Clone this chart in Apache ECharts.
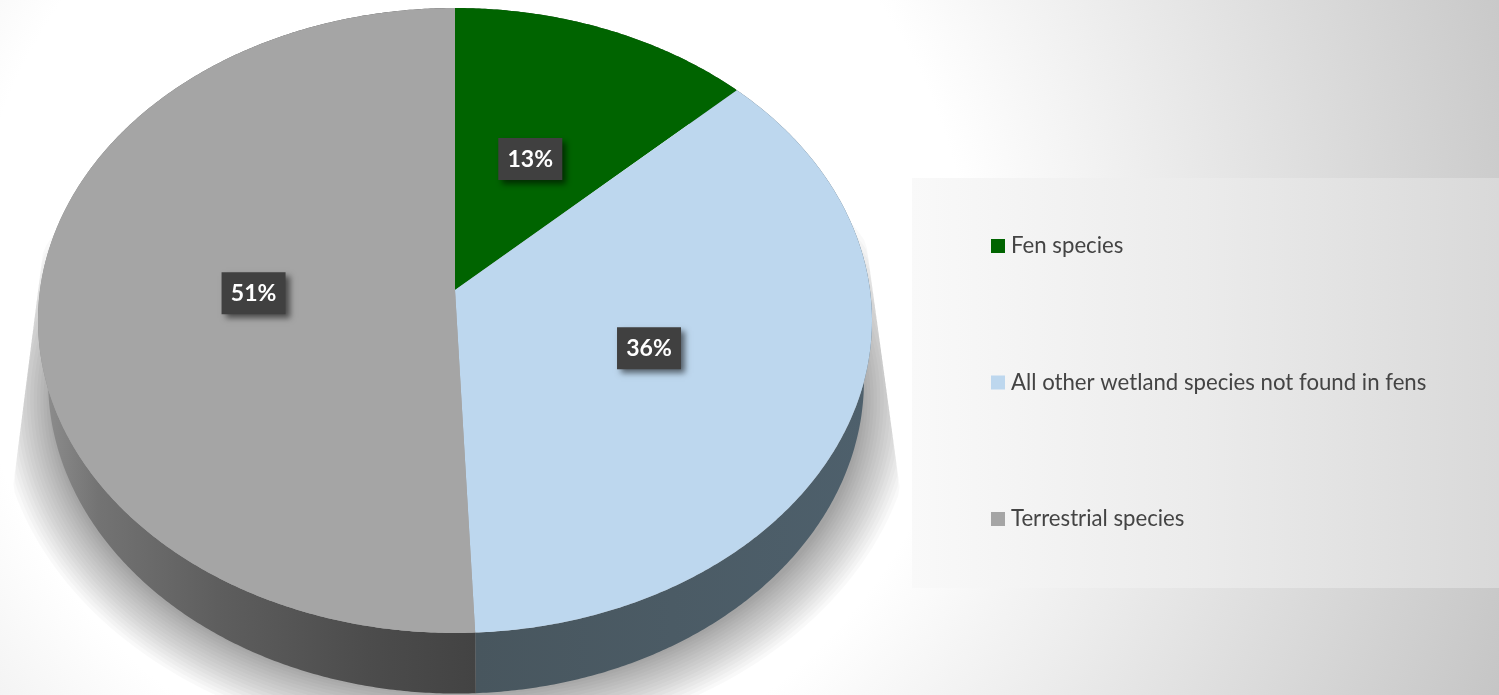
<!DOCTYPE html>
<html><head><meta charset="utf-8">
<style>html,body{margin:0;padding:0;background:#fff}#c{width:1499px;height:695px}</style>
<script src="https://cdn.jsdelivr.net/npm/echarts@6/dist/echarts.min.js"></script>
</head><body><div id="c"></div>
<script>
const categories = ['Fen species', 'All other wetland species not found in fens', 'Terrestrial species'];
const shares = [12.9, 36.4, 50.7];
const topColors = ['#006400', '#BDD7EE', '#A5A5A5'];

const total = shares.reduce((a, b) => a + b, 0);
const rimTop = {cx: 455, cy: 290, a: 415, b: 309.5, k: 0.0976};
const rimLow = {cx: 456, cy: 350, a: 406, b: 310, k: 0.0976};
const labelRadius = [0.48, 0.495, 0.485];
function project(rim, theta, r) {
  const u = Math.sin(theta) * r, v = Math.cos(theta) * r, w = 1 + rim.k * v;
  return [rim.cx + rim.a * u / w, rim.cy - rim.b * v / w];
}
function arc(rim, t0, t1) {
  const n = Math.max(2, Math.ceil((t1 - t0) / 0.008)), pts = [];
  for (let i = 0; i <= n; i++) pts.push(project(rim, t0 + (t1 - t0) * i / n, 1));
  return pts;
}
function range(i) {
  let s = 0;
  for (let j = 0; j < i; j++) s += shares[j];
  return [s / total * 2 * Math.PI, (s + shares[i]) / total * 2 * Math.PI];
}
const G = echarts.graphic;
const wallFills = [
  '#3c5a3c',
  new G.LinearGradient(475, 0, 870, 0, [{offset: 0, color: '#48565e'}, {offset: 1, color: '#4e606c'}], true),
  new G.LinearGradient(47, 0, 475, 0, [
    {offset: 0, color: '#8c8c8c'}, {offset: 0.12, color: '#737373'}, {offset: 0.4, color: '#5e5e5e'},
    {offset: 0.75, color: '#4c4c4c'}, {offset: 1, color: '#434343'}], true)
];
function sliceItem(i) {
  return function (params, api) {
    const [t0, t1] = range(i);
    const top = arc(rimTop, t0, t1);
    const low = arc(rimLow, t0, t1).reverse();
    const mid = project(rimTop, (t0 + t1) / 2, labelRadius[i]);
    const pct = Math.round(api.value(0) / total * 100) + '%';
    return {type: 'group', children: [
      {type: 'polygon', z2: 1, shape: {points: top.concat(low)}, style: {fill: wallFills[i]}},
      {type: 'polygon', z2: 2, shape: {points: [[rimTop.cx, rimTop.cy]].concat(top)}, style: {fill: topColors[i]}},
      {type: 'rect', z2: 3, shape: {x: mid[0] - 32, y: mid[1] - 21, width: 64, height: 42},
        style: {fill: '#404040', shadowBlur: 6, shadowOffsetX: 4, shadowOffsetY: 4, shadowColor: 'rgba(0,0,0,0.55)'}},
      {type: 'text', z2: 4, x: mid[0], y: mid[1], style: {text: pct, fill: '#fff',
        font: 'bold 23px Lato', align: 'center', verticalAlign: 'middle'}}
    ]};
  };
}
function shadowItem() {
  const children = [], n = 16, spread = 54;
  for (let l = n; l >= 0; l--) {
    const e = spread * Math.pow(l / n, 1.1), pts = [];
    for (let d = -40; d <= 220; d += 1.5) {
      const a = d * Math.PI / 180;
      let x = 457 - (405 + e) * Math.cos(a), y = 400 + (293 + e) * Math.sin(a);
      const xl = 40 - (y - 275) * 27 / 212, xr = 870 + (y - 270) * 27 / 197;
      x = Math.min(Math.max(x, xl), xr);
      pts.push([x, y]);
    }
    children.push({type: 'polygon', z2: 0, shape: {points: pts}, style: {fill: 'rgba(0,0,0,0.022)'}});
  }
  return {type: 'group', children};
}
const series = [{type: 'custom', name: 'shadow', silent: true, coordinateSystem: 'none', data: [[0]], renderItem: shadowItem, z: 2}];
categories.forEach((name, i) => series.push({
  type: 'custom', name, coordinateSystem: 'none', silent: true, z: 2,
  itemStyle: {color: topColors[i]}, data: [[shares[i]]], renderItem: sliceItem(i)
}));
const chart = echarts.init(document.getElementById('c'), null, {renderer: 'canvas'});
chart.setOption({
  animation: false,
  graphic: [
    {type: 'rect', z: -2, silent: true, shape: {x: 0, y: 0, width: 1499, height: 695},
      style: {fill: new G.RadialGradient(470, 290, 1110, [{offset: 0, color: '#ffffff'}, {offset: 0.45, color: '#ffffff'}, {offset: 1, color: '#c5c5c5'}], true)}},
    {type: 'rect', z: -1, silent: true, shape: {x: 912, y: 178, width: 587, height: 410},
      style: {fill: new G.LinearGradient(912, 0, 1499, 0, [{offset: 0, color: '#f9f9f9'}, {offset: 0.5, color: '#ebebeb'}, {offset: 1, color: '#d9d9d9'}], true)}}
  ],
  legend: {
    data: categories, orient: 'vertical', left: 986, top: 230, padding: 5, icon: 'rect',
    itemWidth: 14, itemHeight: 14, itemGap: 114.5, selectedMode: false,
    textStyle: {fontFamily: 'Lato', fontSize: 22.2, color: '#444444', padding: [0, 0, 0, 1]}
  },
  series
});
</script></body></html>
